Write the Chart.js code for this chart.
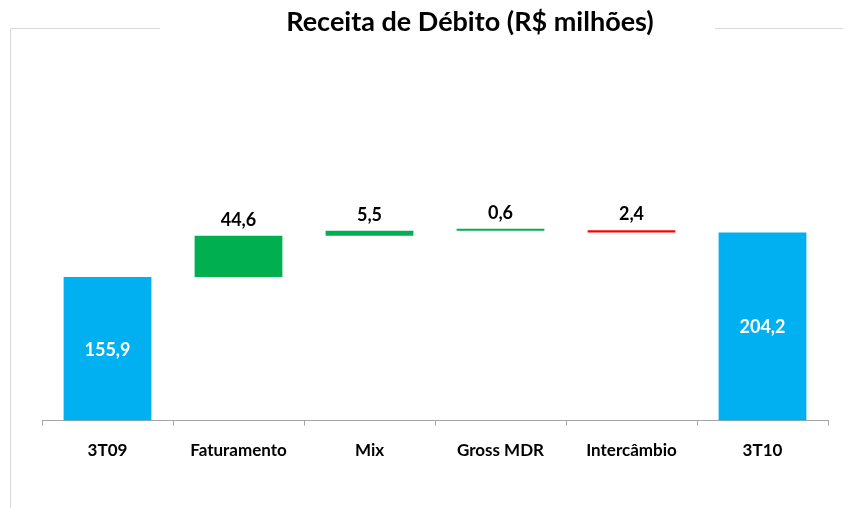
<!DOCTYPE html>
<html>
<head>
<meta charset="utf-8">
<script src="https://cdn.jsdelivr.net/npm/chart.js@4/dist/chart.umd.min.js"></script>
<style>
  html, body { margin: 0; padding: 0; background: #fff; }
  #wrap { width: 843px; height: 508px; }
</style>
</head>
<body>
<div id="wrap"><canvas id="chart"></canvas></div>
<script>
// Dados do gráfico (R$ milhões)
const categorias = ['3T09', 'Faturamento', 'Mix', 'Gross MDR', 'Intercâmbio', '3T10'];
const variacoes = [155.9, 44.6, 5.5, 0.6, -2.4, 204.2];
const ehTotal = [true, false, false, false, false, true];

const AZUL = '#00B0F0', VERDE = '#00B050', VERMELHO = '#FF0000';

// Monta as barras flutuantes (cascata) a partir das variações
let acumulado = 0;
const barras = [];
const cores = [];
variacoes.forEach((v, i) => {
    if (ehTotal[i]) {
        barras.push([0, v]);
        acumulado = v;
        cores.push(AZUL);
    } else {
        barras.push([acumulado, acumulado + v]);
        acumulado += v;
        cores.push(v >= 0 ? VERDE : VERMELHO);
    }
});

const fmt = v => Math.abs(v).toFixed(1).replace('.', ',');

// Moldura cinza e título
const molduraPlugin = {
    id: 'moldura',
    beforeDraw(chart) {
        const ctx = chart.ctx;
        ctx.save();
        ctx.strokeStyle = '#d9d9d9';
        ctx.lineWidth = 1;
        ctx.beginPath();
        ctx.moveTo(10.5, 520);
        ctx.lineTo(10.5, 28.5);
        ctx.lineTo(160, 28.5);
        ctx.moveTo(715, 28.5);
        ctx.lineTo(843, 28.5);
        ctx.stroke();
        ctx.fillStyle = '#000';
        ctx.font = 'bold 27px Lato';
        ctx.textAlign = 'center';
        ctx.textBaseline = 'middle';
        ctx.fillText('Receita de Débito (R$ milhões)', 470, 22);
        ctx.restore();
    }
};

// Rótulos de valor
const rotulosPlugin = {
    id: 'rotulos',
    afterDatasetsDraw(chart) {
        const ctx = chart.ctx;
        const meta = chart.getDatasetMeta(0);
        ctx.save();
        ctx.font = 'bold 18px Lato';
        ctx.textAlign = 'center';
        ctx.textBaseline = 'middle';
        meta.data.forEach((bar, i) => {
            const props = bar.getProps(['x', 'y', 'base'], true);
            const topo = Math.min(props.y, props.base);
            if (ehTotal[i]) {
                ctx.fillStyle = '#fff';
                ctx.fillText(fmt(variacoes[i]), props.x, (props.y + props.base) / 2 + 1);
            } else {
                ctx.fillStyle = '#000';
                ctx.fillText(fmt(variacoes[i]), props.x, topo - 16);
            }
        });
        ctx.restore();
    }
};

new Chart(document.getElementById('chart'), {
    type: 'bar',
    data: {
        labels: categorias,
        datasets: [{
            data: barras,
            backgroundColor: cores,
            borderWidth: 0,
            minBarLength: 2,
            barPercentage: 0.67,
            categoryPercentage: 1
        }]
    },
    options: {
        responsive: true,
        maintainAspectRatio: false,
        animation: false,
        layout: { padding: { left: 42, right: 15, top: 52, bottom: 32 } },
        scales: {
            y: { display: false, min: 0, max: 400 },
            x: {
                grid: {
                    offset: true,
                    drawOnChartArea: false,
                    drawTicks: true,
                    tickLength: 5,
                    color: '#a6a6a6'
                },
                border: { color: '#a6a6a6' },
                ticks: {
                    color: '#000',
                    font: { family: 'Lato', weight: 'bold', size: 17 },
                    padding: 15
                }
            }
        },
        plugins: {
            legend: { display: false },
            tooltip: { enabled: false }
        }
    },
    plugins: [molduraPlugin, rotulosPlugin]
});
</script>
</body>
</html>
